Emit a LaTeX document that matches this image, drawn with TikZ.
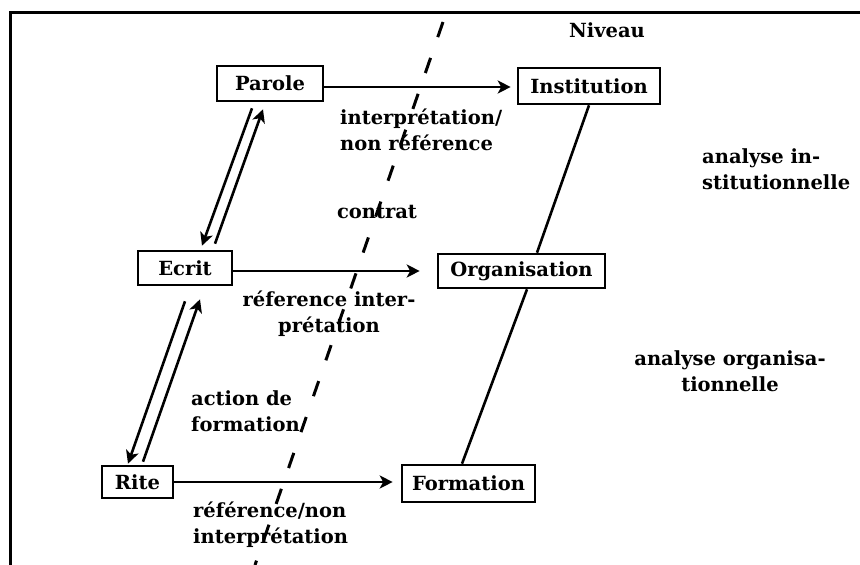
\documentclass[tikz,border=0pt]{standalone}
\usepackage{fontspec}
\setmainfont{DejaVu Serif}
\usetikzlibrary{arrows.meta,calc}
\begin{document}
\begin{tikzpicture}[x=1pt,y=-1pt,
  every node/.style={font=\fontsize{19.5}{26}\selectfont\bfseries},
  box/.style={draw,line width=2.6pt,fill=white,inner sep=0pt},
  lbl/.style={inner sep=0pt},
  link/.style={line width=2.6pt},
  arr/.style={link,-{Stealth[length=13pt,width=13pt,inset=3.5pt]}},
  divider/.style={line width=3pt,dash pattern=on 16pt off 22pt},
  frame/.style={line width=3pt}]
\useasboundingbox (0,0) rectangle (860,565);

% open frame: top and left edges
\coordinate (frTR) at (860,12);
\coordinate (frTL) at (10,12);
\coordinate (frBL) at (10,565);
\draw[frame] (frTR) -- (frTL) -- (frBL);

% dashed divider
\coordinate (dvTop) at (443,22);
\coordinate (dvBot) at (255,565);
\draw[divider] (dvTop) -- (dvBot);

% boxes
\node[box,minimum width=106pt,minimum height=35pt] (parole) at (270,83.5) {Parole};
\node[box,minimum width=142pt,minimum height=36pt] (inst) at (589,86) {Institution};
\node[box,minimum width=94pt,minimum height=34pt] (ecrit) at (185,268) {Ecrit};
\node[box,minimum width=167pt,minimum height=34pt] (orga) at (521.5,271) {Organisation};
\node[box,minimum width=71pt,minimum height=32pt] (rite) at (137.5,482) {Rite};
\node[box,minimum width=133pt,minimum height=37pt] (form) at (468.5,483.5) {Formation};

% horizontal arrows
\draw[arr,shorten >=6pt] (parole.east |- 0,87) -- (inst.west |- 0,87);
\draw[arr,shorten >=17pt] (ecrit.east |- 0,271) -- (orga.west |- 0,271);
\draw[arr,shorten >=8pt] (rite.east) -- (form.west |- rite.east);

% paired arrows between Parole and Ecrit
\draw[arr] ($(parole.south)+(-18,6)$) -- ($(ecrit.north)+(17,-4)$);
\draw[arr] ($(ecrit.north)+(30,-6)$) -- ($(parole.south)+(-7,7)$);

% paired arrows between Ecrit and Rite
\draw[arr] ($(rite.north)+(5.5,-3)$) -- ($(ecrit.south)+(15,13)$);
\draw[arr] ($(ecrit.south)+(0,15)$) -- ($(rite.north)+(-9.5,-1)$);

% level line Institution - Organisation - Formation
\draw[link] (inst.south) -- ($(orga.north)+(15.5,0)$);
\draw[link] ($(orga.south)+(5.5,0)$) -- ($(form.north)+(-6.5,0)$);

% labels
\node[lbl,anchor=north] (niveau) at (607,18.8) {\strut Niveau};
\node[lbl,anchor=north west,align=left] (lInterp) at (340,105.8)
  {\strut interprétation/\\\strut non référence};
\node[lbl,anchor=north] (lContrat) at (377,199.8) {\strut contrat};
\node[lbl,anchor=north,align=center] (lRefInt) at (329,287.8)
  {\strut réference inter-\\\strut prétation};
\node[lbl,anchor=north west,align=left] (lAction) at (191,386.8)
  {\strut action de\\\strut formation};
\node[lbl,anchor=north west,align=left] (lRefNon) at (193,498.8)
  {\strut référence/non\\\strut interprétation};
\node[lbl,anchor=north west,align=left] (lInst) at (702,144.8)
  {\strut analyse in-\\\strut stitutionnelle};
\node[lbl,anchor=north,align=center] (lOrga) at (730,346.8)
  {\strut analyse organisa-\\\strut tionnelle};
\end{tikzpicture}
\end{document}
